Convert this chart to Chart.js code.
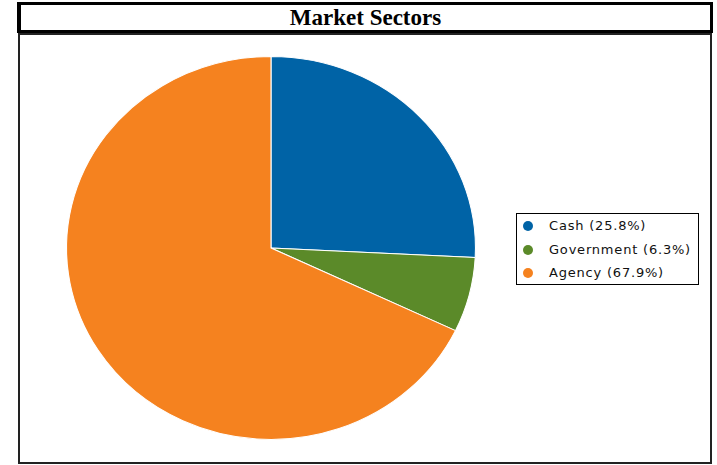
<!DOCTYPE html>
<html>
<head>
<meta charset="utf-8">
<script src="https://cdn.jsdelivr.net/npm/chart.js@4.4.0/dist/chart.umd.min.js"></script>
<style>
  body { margin: 0; background: #fff; }
  #page { position: relative; width: 717px; height: 465px; overflow: hidden; }
  #titleBox {
    position: absolute; left: 17px; top: 2px; width: 696px; height: 31px;
    box-sizing: border-box; border: 3px solid #000; border-left-width: 4px;
    font: bold 23px "Liberation Serif", "Times New Roman", serif;
    text-align: center; line-height: 25px; color: #000;
  }
  #chartBox {
    position: absolute; left: 18px; top: 33px; width: 694px; height: 431px;
    box-sizing: border-box; border: 2px solid #222;
  }
  #pie { position: absolute; left: 0; top: 0; }
  #legend {
    position: absolute; left: 516px; top: 213px; width: 183px; height: 72px;
    box-sizing: border-box; border: 1px solid #000; background: #fff;
    font: 13px "DejaVu Sans", sans-serif; letter-spacing: 0.8px; color: #111;
  }
  .row { position: absolute; left: 0; height: 14px; line-height: 14px; white-space: nowrap; }
  .dot { position: absolute; left: 6px; top: 2px; width: 10px; height: 10px; border-radius: 50%; }
  .txt { position: absolute; left: 32px; top: 0; }
</style>
</head>
<body>
<div id="page">
  <div id="chartBox"></div>
  <div id="titleBox">Market Sectors</div>
  <canvas id="pie" width="717" height="465"></canvas>
  <div id="legend"></div>
</div>
<script>
// chart data
var sectors = ['Cash', 'Government', 'Agency'];
var shares = [25.8, 6.3, 67.9];
var colors = ['#0063a6', '#5b8a29', '#f5821f'];

// the reference pie is a little wider than tall
var xStretch = 205 / 192;

var stretchPie = {
  id: 'stretchPie',
  beforeDatasetsDraw: function (chart) {
    var a = chart.chartArea;
    var cx = (a.left + a.right) / 2;
    chart.ctx.save();
    chart.ctx.translate(cx, 0);
    chart.ctx.scale(xStretch, 1);
    chart.ctx.translate(-cx, 0);
  },
  afterDatasetsDraw: function (chart) {
    chart.ctx.restore();
  }
};

var ctx = document.getElementById('pie').getContext('2d');
var pieChart = new Chart(ctx, {
  type: 'pie',
  data: {
    labels: sectors,
    datasets: [{
      data: shares,
      backgroundColor: colors,
      borderColor: '#ffffff',
      borderWidth: 1,
      clip: false
    }]
  },
  options: {
    responsive: false,
    animation: false,
    layout: { padding: { left: 79, right: 254, top: 56, bottom: 25 } },
    plugins: {
      legend: { display: false },
      tooltip: { enabled: false }
    }
  },
  plugins: [stretchPie]
});

// legend built from the same arrays
var legend = document.getElementById('legend');
sectors.forEach(function (name, i) {
  var row = document.createElement('div');
  row.className = 'row';
  row.style.top = (5 + i * 23.5) + 'px';
  row.innerHTML = '<span class="dot" style="background:' + colors[i] + '"></span>' +
    '<span class="txt">' + name + ' (' + shares[i].toFixed(1) + '%)</span>';
  legend.appendChild(row);
});
</script>
</body>
</html>
